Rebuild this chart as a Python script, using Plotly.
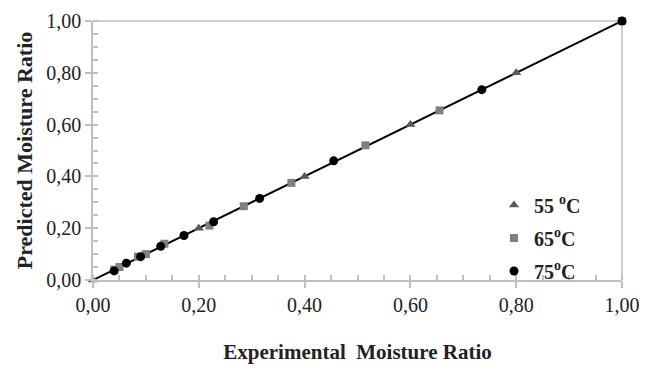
import plotly.graph_objects as go

# Data (experimental vs predicted moisture ratio)
exp_55 = [0.0, 0.20, 0.40, 0.60, 0.80, 1.0]
pred_55 = [0.0, 0.20, 0.40, 0.60, 0.80, 1.0]

exp_65 = [0.04, 0.05, 0.085, 0.10, 0.135, 0.22, 0.285, 0.375, 0.515, 0.655, 1.0]
pred_65 = [0.04, 0.05, 0.09, 0.10, 0.14, 0.21, 0.285, 0.375, 0.52, 0.655, 1.0]

exp_75 = [0.04, 0.063, 0.09, 0.128, 0.172, 0.228, 0.315, 0.455, 0.735, 1.0]
pred_75 = [0.035, 0.065, 0.09, 0.13, 0.172, 0.225, 0.315, 0.46, 0.735, 1.0]

fit_x = [0.0, 1.0]
fit_y = [0.0, 1.0]

font_fam = "Liberation Serif, Times New Roman, serif"

fig = go.Figure()
fig.add_trace(go.Scatter(x=fit_x, y=fit_y, mode="lines",
                         line=dict(color="black", width=2), showlegend=False,
                         hoverinfo="skip", cliponaxis=False))
fig.add_trace(go.Scatter(x=exp_55, y=pred_55, mode="markers", name="<b>55 <sup>o</sup>C</b>",
                         legendgroup="a", cliponaxis=False,
                         marker=dict(symbol="triangle-up", size=9, color="#595959")))
fig.add_trace(go.Scatter(x=exp_65, y=pred_65, mode="markers", name="<b>65<sup>o</sup>C</b>",
                         legendgroup="b", cliponaxis=False,
                         marker=dict(symbol="square", size=8, color="#808080")))
fig.add_trace(go.Scatter(x=exp_75, y=pred_75, mode="markers", name="<b>75<sup>o</sup>C</b>",
                         legendgroup="c", cliponaxis=False,
                         marker=dict(symbol="circle", size=9, color="black")))

axis_common = dict(
    range=[0, 1], tickvals=[0, 0.2, 0.4, 0.6, 0.8, 1.0], tickformat=".2f",
    showgrid=False, zeroline=False, showline=True, linecolor="#bfbfbf", linewidth=1.5,
    ticks="outside", ticklen=6, tickcolor="#bfbfbf", tickwidth=1.5,
    minor=dict(dtick=0.05, ticks="inside", ticklen=5, tickcolor="#bfbfbf", tickwidth=1.5,
               showgrid=False),
    tickfont=dict(family=font_fam, size=20, color="#222"),
    mirror=False, automargin=False,
)

fig.update_layout(
    width=645, height=375,
    margin=dict(l=93, r=23, t=21, b=95, autoexpand=False),
    paper_bgcolor="white", plot_bgcolor="white",
    separators=", ",
    xaxis=dict(**axis_common,
               title=dict(text="<b>Experimental  Moisture Ratio</b>",
                          font=dict(family=font_fam, size=21, color="#222"), standoff=30)),
    yaxis=dict(**axis_common,
               title=dict(text="<b>Predicted Moisture Ratio</b>",
                          font=dict(family=font_fam, size=22, color="#222"), standoff=8)),
    legend=dict(x=0.758, y=0.365, xanchor="left", yanchor="top",
                font=dict(family=font_fam, size=20, color="#222"),
                bgcolor="rgba(0,0,0,0)", tracegroupgap=4, itemwidth=30),
    showlegend=True,
)

# top and right border lines
fig.add_shape(type="line", xref="paper", yref="paper", x0=0, x1=1, y0=1, y1=1,
              line=dict(color="#bfbfbf", width=1.5), layer="below")
fig.add_shape(type="line", xref="paper", yref="paper", x0=1, x1=1, y0=0, y1=1,
              line=dict(color="#bfbfbf", width=1.5), layer="below")

fig.write_html("out.html")
